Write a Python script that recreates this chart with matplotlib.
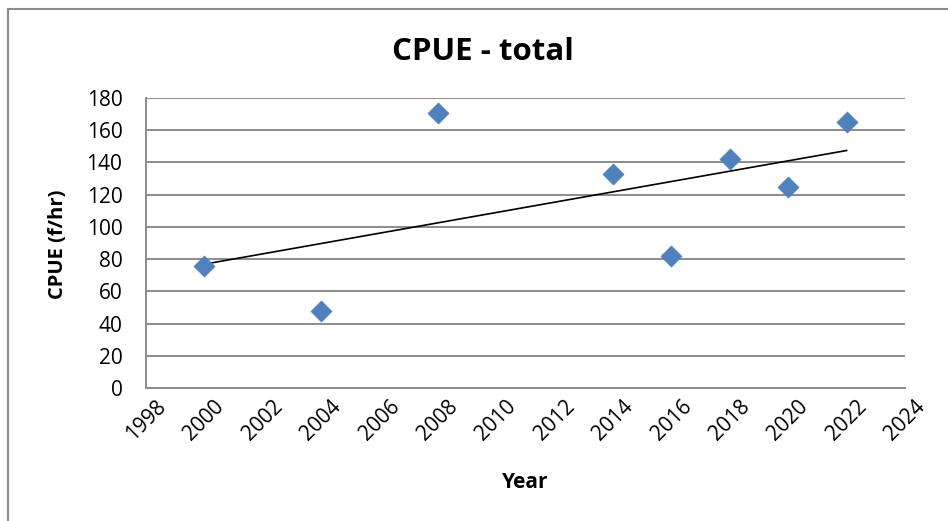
import numpy as np
import matplotlib.pyplot as plt
from matplotlib.patches import Rectangle

# data
years = [2000, 2004, 2008, 2014, 2016, 2018, 2020, 2022]
cpue = [76, 48, 171, 133, 82, 142, 125, 165]
x_ticks = list(range(1998, 2025, 2))
y_ticks = list(range(0, 181, 20))

plt.rcParams['font.family'] = ['Open Sans', 'DejaVu Sans']

W, H = 948, 521
fig = plt.figure(figsize=(W / 100, H / 100), dpi=100)
ax = fig.add_axes([146 / W, (H - 388) / H, (905 - 146) / W, (388 - 98) / H])

# chart area border
fig.patches.append(Rectangle((8 / W, -0.05), 1.0, (H - 9) / H + 0.05,
                             transform=fig.transFigure, fill=False,
                             edgecolor='#8c8c8c', linewidth=1.5))

ax.scatter(years, cpue, marker='D', s=115, color='#4f81bd', zorder=3,
           edgecolors='#4f81bd', linewidths=0.5)

# linear trendline
slope, intercept = np.polyfit(years, cpue, 1)
tx = np.array([min(years), max(years)])
ax.plot(tx, slope * tx + intercept, color='black', linewidth=1.2, zorder=2)

ax.set_xlim(1998, 2024)
ax.set_ylim(0, 180)
ax.set_xticks(x_ticks)
ax.set_yticks(y_ticks)
ax.set_xticklabels([str(t) for t in x_ticks], rotation=45, ha='center',
                   va='top', fontsize=15)
ax.set_yticklabels([str(t) for t in y_ticks], fontsize=15)
ax.tick_params(length=0)
ax.tick_params(axis='y', pad=17)
ax.tick_params(axis='x', pad=6)

ax.grid(axis='y', color='#8c8c8c', linewidth=1.4)
ax.set_axisbelow(True)
for s in ['top', 'right']:
    ax.spines[s].set_visible(False)
for s in ['left', 'bottom']:
    ax.spines[s].set_color('#8c8c8c')
    ax.spines[s].set_linewidth(1.4)

fig.text(525 / W, (H - 488) / H, 'Year', ha='center', va='baseline',
         fontsize=15, fontweight='bold')
fig.text(58 / W, (H - 244) / H, 'CPUE (f/hr)', ha='center', va='center',
         rotation=90, fontsize=14.5, fontweight='bold')
fig.text(483 / W, (H - 60) / H, 'CPUE - total', ha='center', va='baseline',
         fontsize=22.5, fontweight='bold')

fig.savefig('out.png', dpi=100)
